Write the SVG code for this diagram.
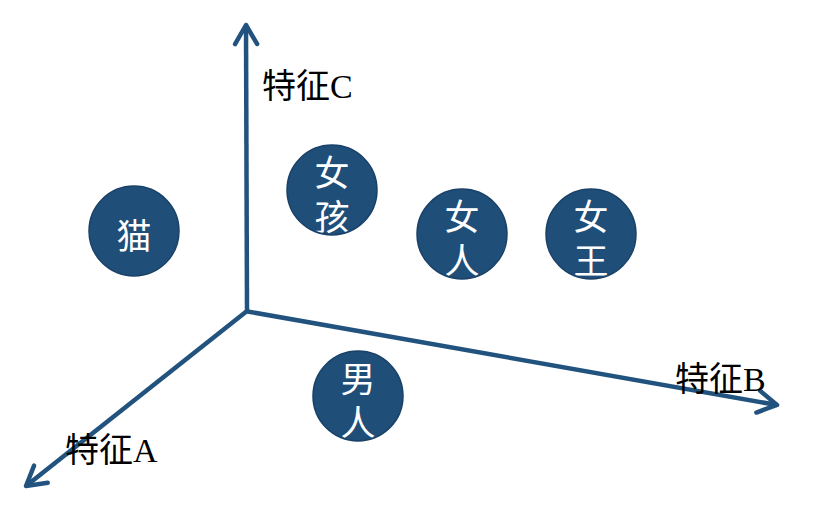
<svg xmlns="http://www.w3.org/2000/svg" width="830" height="511" viewBox="0 0 830 511">
<style>
.axis{stroke:#22537E;stroke-width:4.5;fill:none}
.node{fill:#1F4E79;stroke:#1A4268;stroke-width:1.5}
.nt{fill:#FFFFFF;font-family:"Liberation Serif","Noto Sans CJK SC",serif;font-size:35px;text-anchor:middle}
.lbl{fill:#000000;font-family:"Liberation Serif","Noto Sans CJK SC",serif;font-size:34px}
</style>
<defs>
<marker id="arr" markerUnits="userSpaceOnUse" viewBox="-26 -16 32 32" markerWidth="32" markerHeight="32" refX="0" refY="0" orient="auto">
<path d="M-19,-11 L0,0 L-19,11" fill="none" stroke="#22537E" stroke-width="4.5" stroke-linecap="round" stroke-linejoin="round"/>
</marker>
<clipPath id="c1"><circle cx="332" cy="190" r="44"/></clipPath>
<clipPath id="c2"><circle cx="462" cy="234" r="44"/></clipPath>
<clipPath id="c3"><circle cx="591" cy="234" r="44"/></clipPath>
<clipPath id="c4"><circle cx="358" cy="396" r="44"/></clipPath>
</defs>
<rect width="830" height="511" fill="#FFFFFF"/>
<g id="connectors">
<line class="axis" x1="247" y1="312" x2="246" y2="25" marker-end="url(#arr)"/>
<line class="axis" x1="247" y1="311" x2="26" y2="486" marker-end="url(#arr)"/>
<line class="axis" x1="245" y1="311" x2="777" y2="405" marker-end="url(#arr)"/>
</g>
<g id="label-C"><text class="lbl" x="262" y="98">特征C</text></g>
<g id="label-A"><text class="lbl" x="65" y="462">特征A</text></g>
<g id="label-B"><text class="lbl" x="675" y="391">特征B</text></g>
<g id="node-cat">
<circle class="node" cx="134" cy="231" r="45"/>
<text class="nt" x="134" y="249">猫</text>
</g>
<g id="node-girl">
<circle class="node" cx="332" cy="190" r="45"/>
<g clip-path="url(#c1)">
<text class="nt" x="332" y="186">女</text>
<text class="nt" x="332" y="230">孩</text>
</g>
</g>
<g id="node-woman">
<circle class="node" cx="462" cy="234" r="45"/>
<g clip-path="url(#c2)">
<text class="nt" x="462" y="230">女</text>
<text class="nt" x="462" y="274">人</text>
</g>
</g>
<g id="node-queen">
<circle class="node" cx="591" cy="234" r="45"/>
<g clip-path="url(#c3)">
<text class="nt" x="591" y="230">女</text>
<text class="nt" x="591" y="274">王</text>
</g>
</g>
<g id="node-man">
<circle class="node" cx="358" cy="396" r="45"/>
<g clip-path="url(#c4)">
<text class="nt" x="358" y="392">男</text>
<text class="nt" x="358" y="436">人</text>
</g>
</g>
</svg>
